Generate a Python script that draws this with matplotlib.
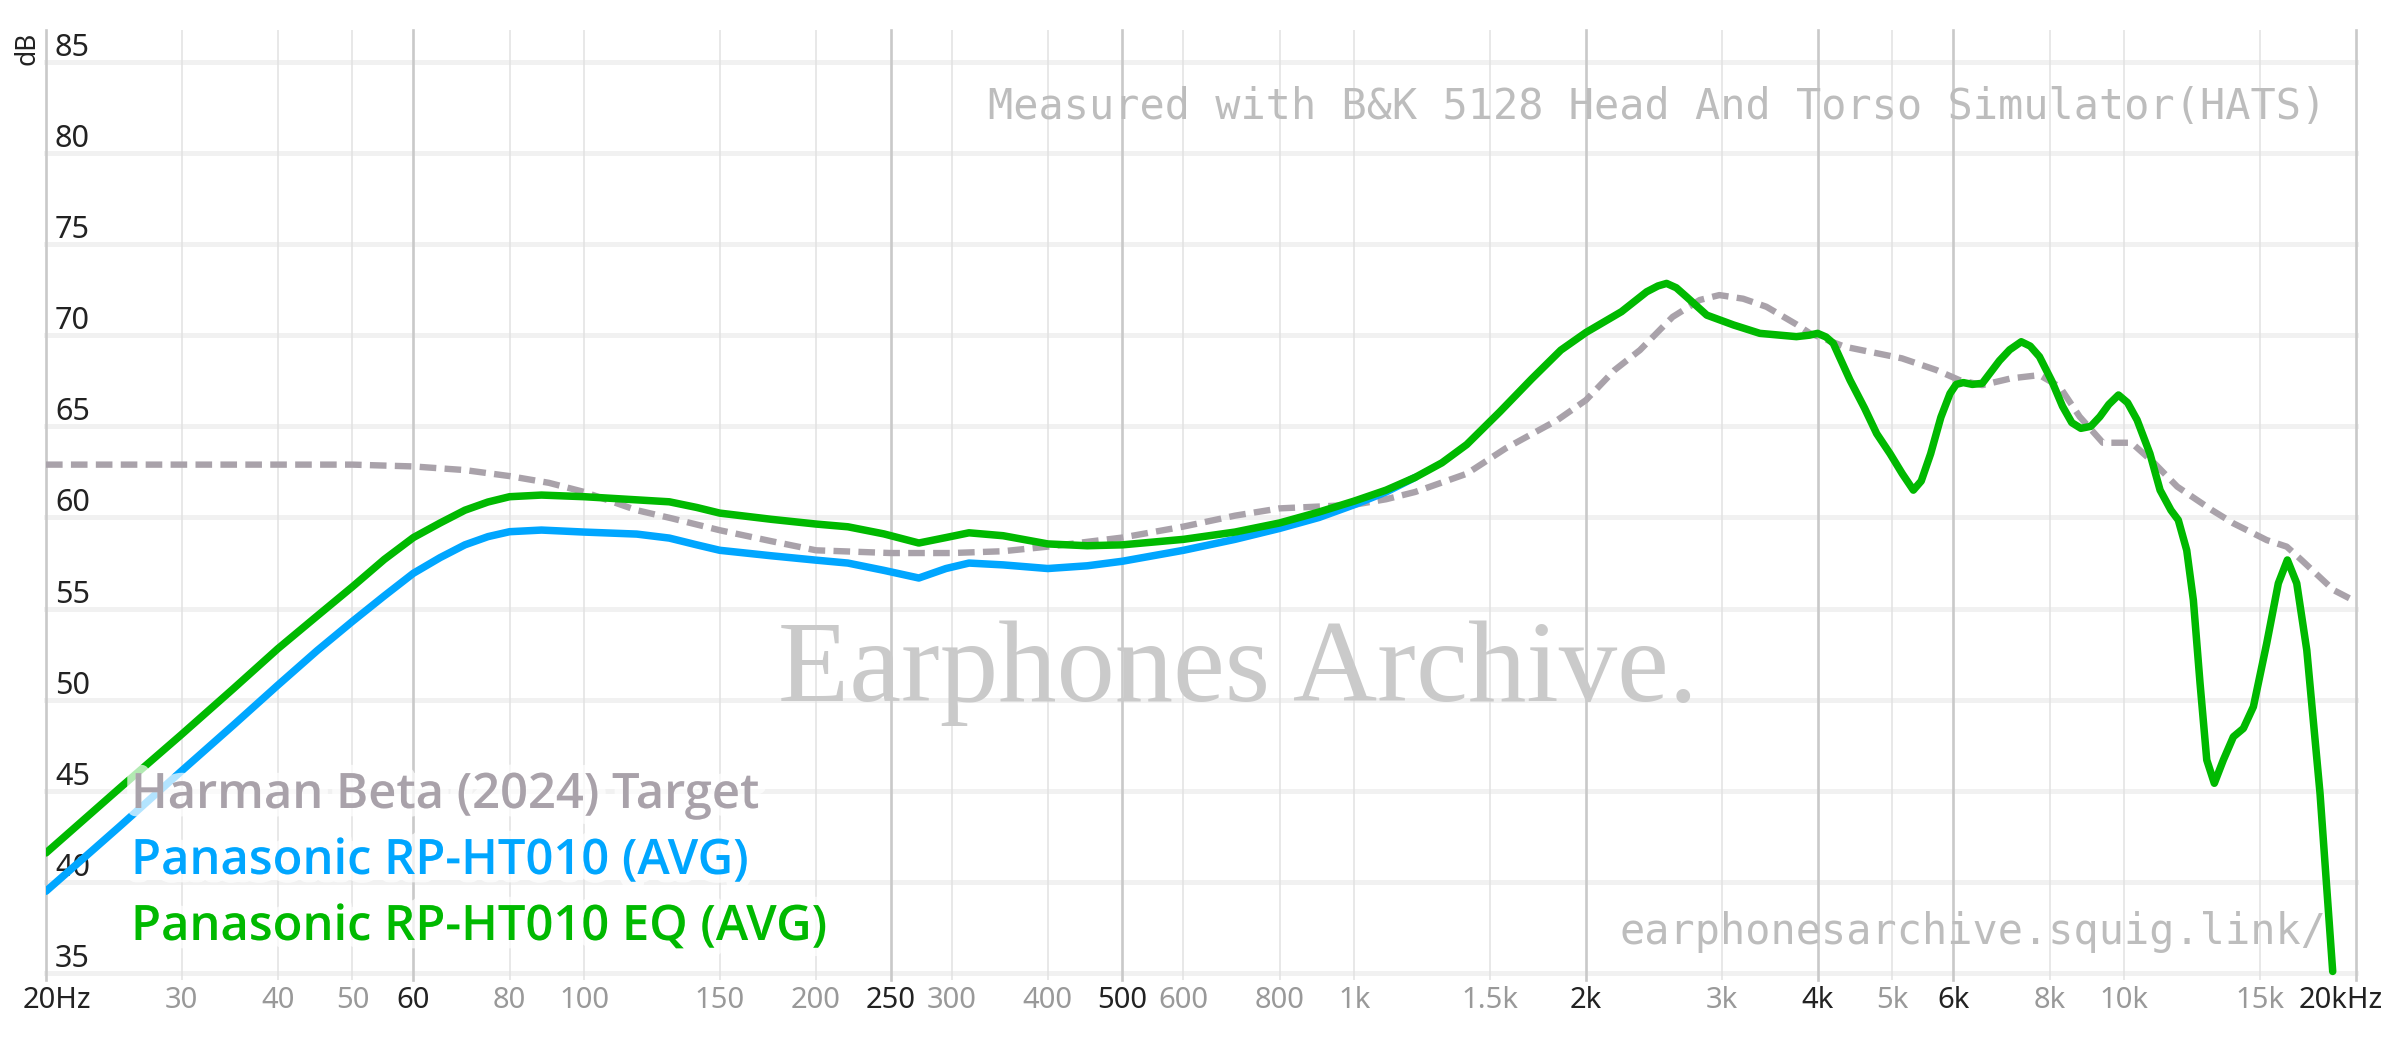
import matplotlib
matplotlib.use("Agg")
import matplotlib.pyplot as plt
from matplotlib.transforms import ScaledTranslation
from matplotlib import font_manager as fm
import matplotlib.patheffects as pe

# ---------------- data ----------------
target_freq = [20, 30, 40, 50, 60, 70, 80, 90, 100, 117, 130, 150, 175, 200, 250, 300, 350,
               400, 500, 600, 700, 800, 900, 1000, 1100, 1200, 1400, 1574, 1837, 2000, 2179,
               2350, 2591, 2810, 2980, 3200, 3430, 3750, 3908, 4333, 5144, 5701, 6106, 6542,
               7127, 7762, 8245, 8753, 9381, 10218, 10947, 11720, 12994, 13860, 15314, 16260,
               16990, 18700, 20000]
target_db = [62.9, 62.9, 62.9, 62.9, 62.8, 62.6, 62.27, 61.9, 61.4, 60.4, 59.95, 59.3, 58.7,
             58.2, 58.05, 58.05, 58.15, 58.4, 58.9, 59.5, 60.1, 60.5, 60.6, 60.7, 61.0, 61.4,
             62.4, 63.8, 65.35, 66.44, 68.09, 69.18, 71.0, 71.93, 72.2, 72.0, 71.56, 70.6,
             70.1, 69.37, 68.73, 68.09, 67.54, 67.26, 67.63, 67.81, 67.17, 65.53, 64.1, 64.1,
             62.97, 61.69, 60.41, 59.68, 58.76, 58.4, 57.67, 56.02, 55.38]

raw_freq = [20, 25, 30, 35, 40, 45, 50, 55, 60, 65, 70, 75, 80, 88, 100, 117, 129, 140, 150,
            175, 200, 220, 245, 272, 295, 316, 350, 400, 450, 500, 600, 700, 800, 900, 1000,
            1100, 1200]
raw_db = [39.5, 43.1, 46.1, 48.6, 50.8, 52.7, 54.3, 55.7, 56.94, 57.8, 58.5, 58.95, 59.22,
          59.31, 59.2, 59.09, 58.87, 58.5, 58.2, 57.9, 57.66, 57.5, 57.1, 56.68, 57.2, 57.5,
          57.4, 57.2, 57.35, 57.6, 58.2, 58.8, 59.4, 60.0, 60.7, 61.4, 62.2]

eq_freq = [20, 25, 30, 35, 40, 45, 50, 55, 60, 65, 70, 75, 80, 88, 100, 129, 140, 150, 175,
           200, 220, 245, 272, 295, 316, 350, 400, 450, 500, 600, 700, 800, 900, 1000, 1100,
           1200, 1300, 1400, 1546, 1700, 1855, 2000, 2224, 2398, 2480, 2545, 2620, 2702, 2870,
           3109, 3364, 3752, 3900, 3998, 4100, 4190, 4404, 4600, 4770, 4965, 5150, 5323,
           5450, 5606, 5780, 5940, 6050, 6180, 6350, 6542, 6886, 7100, 7350, 7550, 7762,
           8050, 8315, 8550, 8785, 9050, 9298, 9550, 9830, 10100, 10393, 10800, 11133, 11500,
           11755, 12056, 12297, 12546, 12800, 13093, 13451, 13860, 14281, 14715, 15314,
           15855, 16290, 16752, 17262, 17960, 18654]
eq_db = [41.6, 45.2, 48.1, 50.6, 52.8, 54.6, 56.2, 57.7, 58.9, 59.7, 60.4, 60.85, 61.14,
         61.23, 61.14, 60.86, 60.55, 60.24, 59.9, 59.64, 59.49, 59.1, 58.6, 58.9, 59.16, 59.0,
         58.55, 58.45, 58.5, 58.8, 59.2, 59.7, 60.3, 60.9, 61.5, 62.2, 63.0, 64.0, 65.8, 67.6,
         69.18, 70.15, 71.29, 72.38, 72.7, 72.84, 72.6, 72.1, 71.1, 70.56, 70.1, 69.92, 70.0,
         70.1, 69.9, 69.55, 67.54, 66.0, 64.6, 63.5, 62.4, 61.5, 62.0, 63.5, 65.5, 66.8,
         67.3, 67.4, 67.3, 67.36, 68.6, 69.2, 69.64, 69.4, 68.82, 67.5, 66.1, 65.2, 64.89,
         65.0, 65.53, 66.2, 66.72, 66.3, 65.35, 63.5, 61.5, 60.4, 59.86, 58.2, 55.47, 50.9,
         46.7, 45.42, 46.7, 47.97, 48.43, 49.62, 53.1, 56.39, 57.67, 56.39, 52.73, 44.87,
         35.1]

major_ticks = [20, 60, 250, 500, 2000, 4000, 6000, 20000]
major_labels = ["20Hz", "60", "250", "500", "2k", "4k", "6k", "20kHz"]
minor_ticks = [30, 40, 50, 80, 100, 150, 200, 300, 400, 600, 800, 1000, 1500, 3000, 5000,
               8000, 10000, 15000]
minor_labels = ["30", "40", "50", "80", "100", "150", "200", "300", "400", "600", "800",
                "1k", "1.5k", "3k", "5k", "8k", "10k", "15k"]
y_ticks = [35, 40, 45, 50, 55, 60, 65, 70, 75, 80, 85]

legend_names = ["Harman Beta (2024) Target", "Panasonic RP-HT010 (AVG)",
                "Panasonic RP-HT010 EQ (AVG)"]

# ---------------- style ----------------
C_TARGET = "#a9a2aa"
C_RAW = "#00a6ff"
C_EQ = "#00b900"

plt.rcParams["font.family"] = ["Noto Sans", "DejaVu Sans"]


def find_bold_font():
    wanted = ["Noto Sans", "Open Sans", "Roboto", "Lato", "Inter", "DejaVu Sans"]
    for w in (600, 700):
        for name in wanted:
            for fe in fm.fontManager.ttflist:
                if fe.name == name and fe.style == "normal":
                    wt = fe.weight
                    if isinstance(wt, str):
                        wt = {"semibold": 600, "demibold": 600, "bold": 700}.get(wt, 400)
                    if wt == w and "Condensed" not in fe.fname and "Cond" not in fe.fname:
                        return fm.FontProperties(fname=fe.fname)
    return fm.FontProperties(family="DejaVu Sans", weight="bold")


bold_fp = find_bold_font()

W, H = 2400, 1038
fig = plt.figure(figsize=(W / 100, H / 100), dpi=100)
ax = fig.add_axes([46 / W, 1 - 980 / H, 2310 / W, 950 / H])
ax.set_xscale("log")
ax.set_xlim(20, 20000)
ax.set_ylim(34.63, 86.74)
for s in ax.spines.values():
    s.set_visible(False)

# grid
for v in y_ticks:
    ax.axhline(v, color="#f1f1f1", lw=3.6, zorder=0.5, clip_on=False)
for f in minor_ticks:
    ax.axvline(f, color="#e2e2e2", lw=1.1, zorder=0.6)
for f in major_ticks:
    ax.axvline(f, color="#c9c9c9", lw=1.9, zorder=0.7, clip_on=False)

ax.set_xticks(major_ticks, labels=major_labels)
ax.set_xticks(minor_ticks, labels=minor_labels, minor=True)
ax.tick_params(axis="x", which="both", length=0, pad=4, labelsize=21)
ax.tick_params(axis="x", which="major", labelcolor="#222222")
ax.tick_params(axis="x", which="minor", labelcolor="#999999")
ax.set_yticks([])
xl = ax.get_xticklabels()
xl[0].set_transform(xl[0].get_transform() + ScaledTranslation(11 / 100, 0, fig.dpi_scale_trans))
xl[-1].set_transform(xl[-1].get_transform() + ScaledTranslation(-15 / 100, 0, fig.dpi_scale_trans))

ytrans = ax.get_yaxis_transform() + ScaledTranslation(9 / 100, 6 / 100, fig.dpi_scale_trans)
for v in y_ticks:
    ax.text(0, v, str(v), transform=ytrans, ha="left", va="baseline", fontsize=22,
            color="#222222", zorder=3)

fig.text(27 / W, 1 - 48 / H, "dB", rotation=90, ha="center", va="center", fontsize=19,
         color="#222222")

# watermark texts
fig.text(1238 / W, 1 - 701 / H, "Earphones Archive.", family=["Liberation Serif"],
         fontsize=84, color="#cacaca", ha="center", va="baseline", zorder=1)
fig.text(2326 / W, 1 - 119 / H, "Measured with B&K 5128 Head And Torso Simulator(HATS)",
         family=["DejaVu Sans Mono"], fontsize=30.2, color="#bdbdbd", ha="right",
         va="baseline")
fig.text(2326 / W, 1 - 944 / H, "earphonesarchive.squig.link/", family=["DejaVu Sans Mono"],
         fontsize=30.2, color="#bdbdbd", ha="right", va="baseline")

# curves
tl, = ax.plot(target_freq, target_db, color=C_TARGET, lw=4.6, zorder=4,
              solid_capstyle="butt", dash_capstyle="butt")
tl.set_dashes((2.6, 1.3))
ax.plot(raw_freq, raw_db, color=C_RAW, lw=5.4, zorder=5, solid_joinstyle="round",
        solid_capstyle="round")
ax.plot(eq_freq, eq_db, color=C_EQ, lw=5.4, zorder=6, solid_joinstyle="round",
        solid_capstyle="round")

# legend texts
halo = [pe.withStroke(linewidth=12, foreground="white", alpha=0.7)]
for name, col, yb in zip(legend_names, [C_TARGET, C_RAW, C_EQ], [808, 874, 940]):
    t = fig.text(131 / W, 1 - yb / H, name, color=col, ha="left", va="baseline",
                 zorder=10, path_effects=halo, fontproperties=bold_fp)
    t.set_fontsize(35.2)

fig.savefig("out.png", dpi=100)
